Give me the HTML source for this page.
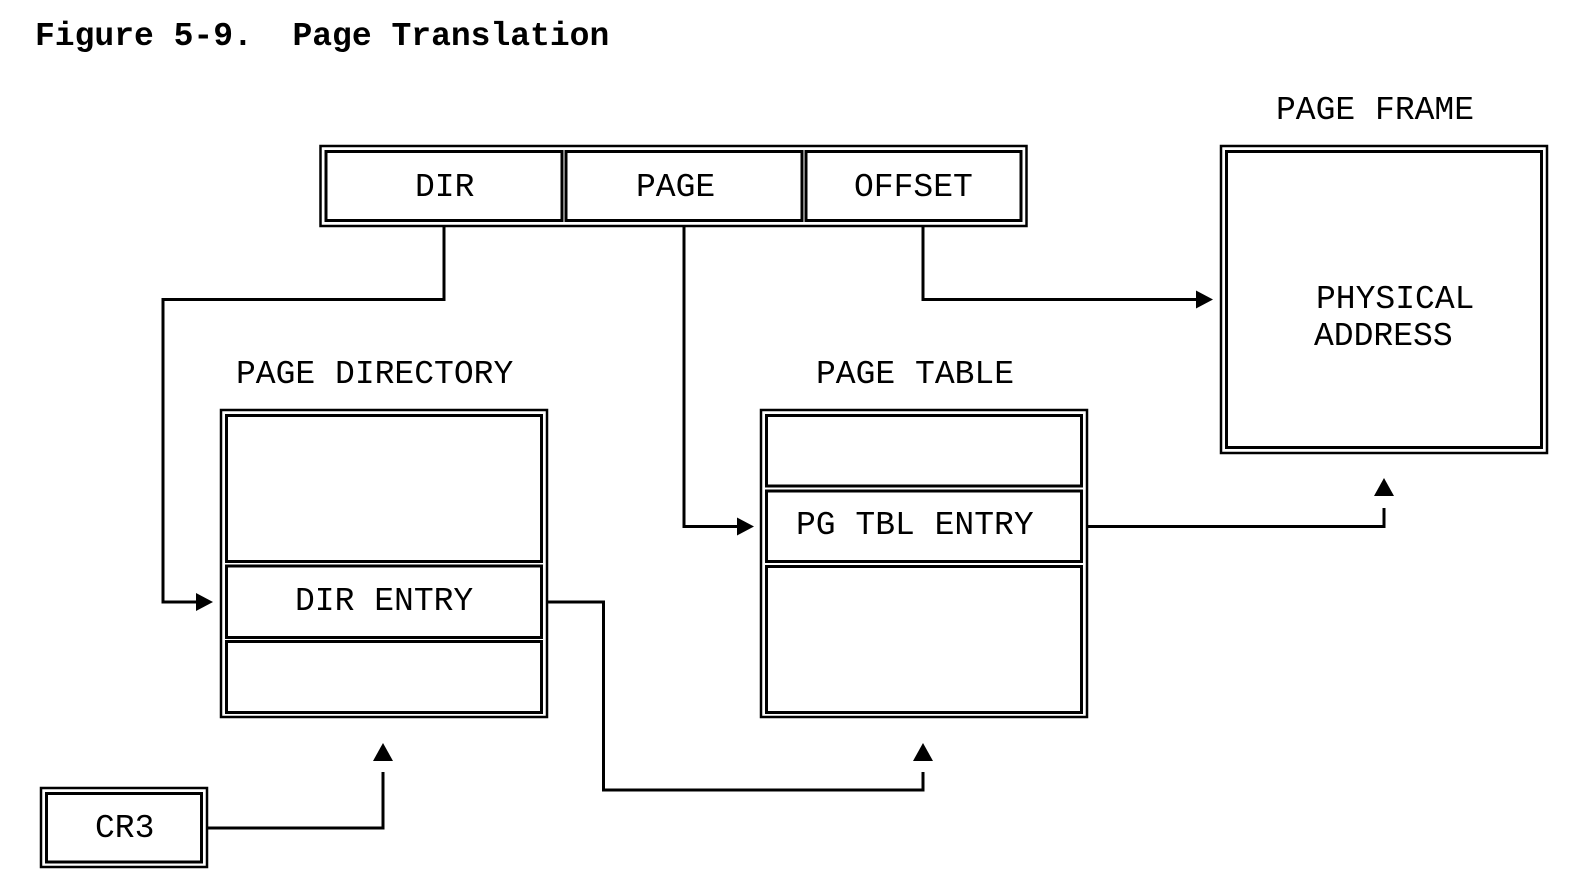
<!DOCTYPE html>
<html><head><meta charset="utf-8"><style>
html,body{margin:0;padding:0;background:#fff;}
svg{display:block;}
text{font-family:"Liberation Mono","Courier New",monospace;font-size:33px;fill:#000;}
</style></head><body>
<svg width="1581" height="893" viewBox="0 0 1581 893" xmlns="http://www.w3.org/2000/svg">
<g fill="none" stroke="#000">
<rect x="320.5" y="146" width="706" height="80" stroke-width="2.5"/>
<rect x="326" y="151.5" width="236" height="69" stroke-width="3"/>
<rect x="566" y="151.5" width="236" height="69" stroke-width="3"/>
<rect x="806" y="151.5" width="215" height="69" stroke-width="3"/>
<rect x="1221" y="146" width="326" height="307" stroke-width="2.5"/>
<rect x="1226.5" y="151.5" width="315" height="296" stroke-width="3"/>
<rect x="221" y="410" width="326" height="307" stroke-width="2.5"/>
<rect x="226.5" y="415.5" width="315" height="146" stroke-width="3"/>
<rect x="226.5" y="566" width="315" height="71.5" stroke-width="3"/>
<rect x="226.5" y="641.5" width="315" height="71" stroke-width="3"/>
<rect x="761" y="410" width="326" height="307" stroke-width="2.5"/>
<rect x="766.5" y="415.5" width="315" height="70.5" stroke-width="3"/>
<rect x="766.5" y="491" width="315" height="70.5" stroke-width="3"/>
<rect x="766.5" y="566.5" width="315" height="146" stroke-width="3"/>
<rect x="41" y="788" width="166" height="79" stroke-width="2.5"/>
<rect x="46.5" y="793.5" width="155" height="68.5" stroke-width="3"/>
<g stroke-width="3">
<polyline points="444,227 444,299.5 163,299.5 163,602 198,602"/>
<polyline points="684,227 684,526.5 740,526.5"/>
<polyline points="923,227 923,299.5 1199,299.5"/>
<polyline points="1087,526.5 1384,526.5 1384,508"/>
<polyline points="547,602 603.5,602 603.5,790 923,790 923,772"/>
<polyline points="207,828 383,828 383,772"/>
</g>
</g>
<g fill="#000">
<polygon points="213,602 196,593 196,611"/>
<polygon points="754,526.5 737,517.5 737,535.5"/>
<polygon points="1213,299.5 1196,290.5 1196,308.5"/>
<polygon points="1384,478 1374,496 1394,496"/>
<polygon points="923,743 913,761 933,761"/>
<polygon points="383,743 373,761 393,761"/>
</g>
<text x="35" y="45" style="font-weight:bold;white-space:pre;" xml:space="preserve">Figure 5-9.  Page Translation</text>
<text x="415" y="196">DIR</text>
<text x="636" y="196">PAGE</text>
<text x="854" y="196">OFFSET</text>
<text x="1276" y="119">PAGE FRAME</text>
<text x="1316" y="308">PHYSICAL</text>
<text x="1314" y="345">ADDRESS</text>
<text x="236" y="383">PAGE DIRECTORY</text>
<text x="816" y="383">PAGE TABLE</text>
<text x="295" y="610">DIR ENTRY</text>
<text x="796" y="534">PG TBL ENTRY</text>
<text x="95" y="837">CR3</text>
</svg>
</body></html>
